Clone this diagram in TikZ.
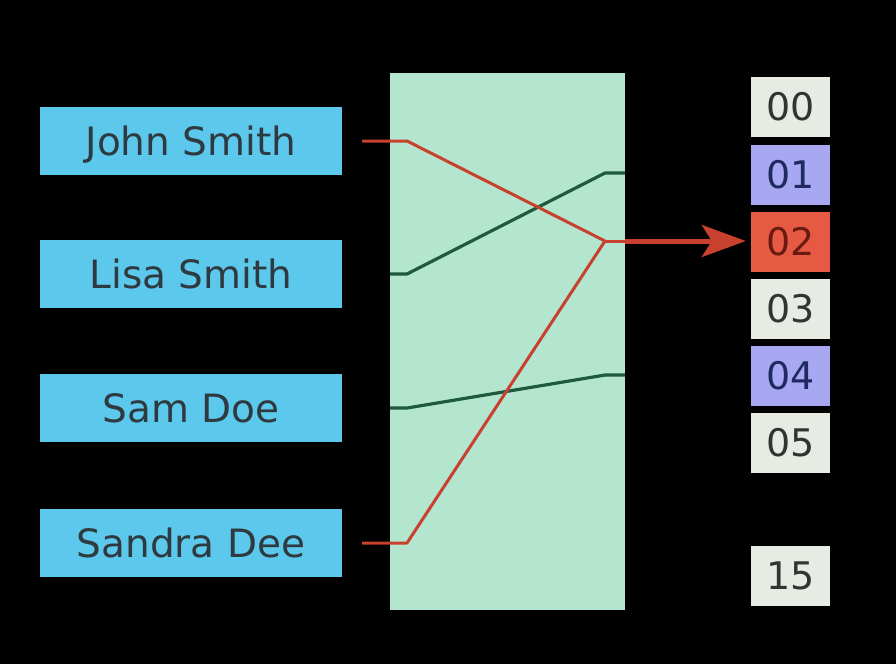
\documentclass[tikz,border=0pt]{standalone}
\usepackage{fontspec}
\setmainfont{DejaVu Sans}
\usetikzlibrary{arrows.meta}
\definecolor{keyc}{HTML}{5CC8EC}
\definecolor{keyt}{HTML}{2E3A40}
\definecolor{hashc}{HTML}{B4E6CF}
\definecolor{redl}{HTML}{C8402E}
\definecolor{greenl}{HTML}{1E5A3E}
\definecolor{slotg}{HTML}{E6EBE4}
\definecolor{slotb}{HTML}{A8A8F2}
\definecolor{slotr}{HTML}{E65A44}
\definecolor{txtb}{HTML}{1E2A60}
\definecolor{txtr}{HTML}{6A1A10}
\definecolor{txtg}{HTML}{333333}
\tikzset{
  keybox/.style={fill=keyc, minimum width=302pt, minimum height=68pt, inner sep=0pt, text=keyt, text height=37pt, text depth=8pt, font=\fontsize{39}{42}\selectfont},
  slot/.style={minimum width=79pt, minimum height=60pt, inner sep=0pt, font=\fontsize{38}{40}\selectfont},
  redline/.style={draw=redl, line width=3pt, line join=round},
  greenline/.style={draw=greenl, line width=3.2pt, line join=round},
}
\begin{document}
\begin{tikzpicture}[x=1pt,y=-1pt]
\fill[black] (0,0) rectangle (896,664);
\useasboundingbox (0,0) rectangle (896,664);
\node[keybox] (john) at (191,141) {John Smith};
\node[keybox] (lisa) at (191,274) {Lisa Smith};
\node[keybox] (sam) at (191,408) {Sam Doe};
\node[keybox] (sandra) at (191,543) {Sandra Dee};
\node[fill=hashc, minimum width=235pt, minimum height=537pt, inner sep=0pt] (hash) at (507.5,341.5) {};
\node[slot, fill=slotg, text=txtg] (s00) at (790.5,107) {00};
\node[slot, fill=slotb, text=txtb] (s01) at (790.5,175) {01};
\node[slot, fill=slotr, text=txtr] (s02) at (790.5,242) {02};
\node[slot, fill=slotg, text=txtg] (s03) at (790.5,309) {03};
\node[slot, fill=slotb, text=txtb] (s04) at (790.5,376) {04};
\node[slot, fill=slotg, text=txtg] (s05) at (790.5,443) {05};
\node[slot, fill=slotg, text=txtg] (s15) at (790.5,576) {15};
\coordinate (j0) at (362,141);
\coordinate (j1) at (407,141);
\coordinate (l0) at (390,274);
\coordinate (l1) at (407,274);
\coordinate (m0) at (390,408);
\coordinate (m1) at (407,408);
\coordinate (d0) at (362,543);
\coordinate (d1) at (407,543);
\coordinate (hit) at (605,241);
\coordinate (g1) at (605,173);
\coordinate (g1e) at (625,173);
\coordinate (g2) at (605,375);
\coordinate (g2e) at (625,375);
\coordinate (out) at (625,241);
\draw[greenline] (l0) -- (l1) -- (g1) -- (g1e);
\draw[greenline] (m0) -- (m1) -- (g2) -- (g2e);
\draw[redline] (j0) -- (j1) -- (hit);
\draw[redline] (d0) -- (d1) -- (hit);
\draw[redline] (hit) -- (out);
\draw[draw=redl, line width=5pt, shorten >=5pt, -{Stealth[length=44pt,width=32pt,inset=10pt]}] (out) -- (s02.west |- out);
\end{tikzpicture}
\end{document}
